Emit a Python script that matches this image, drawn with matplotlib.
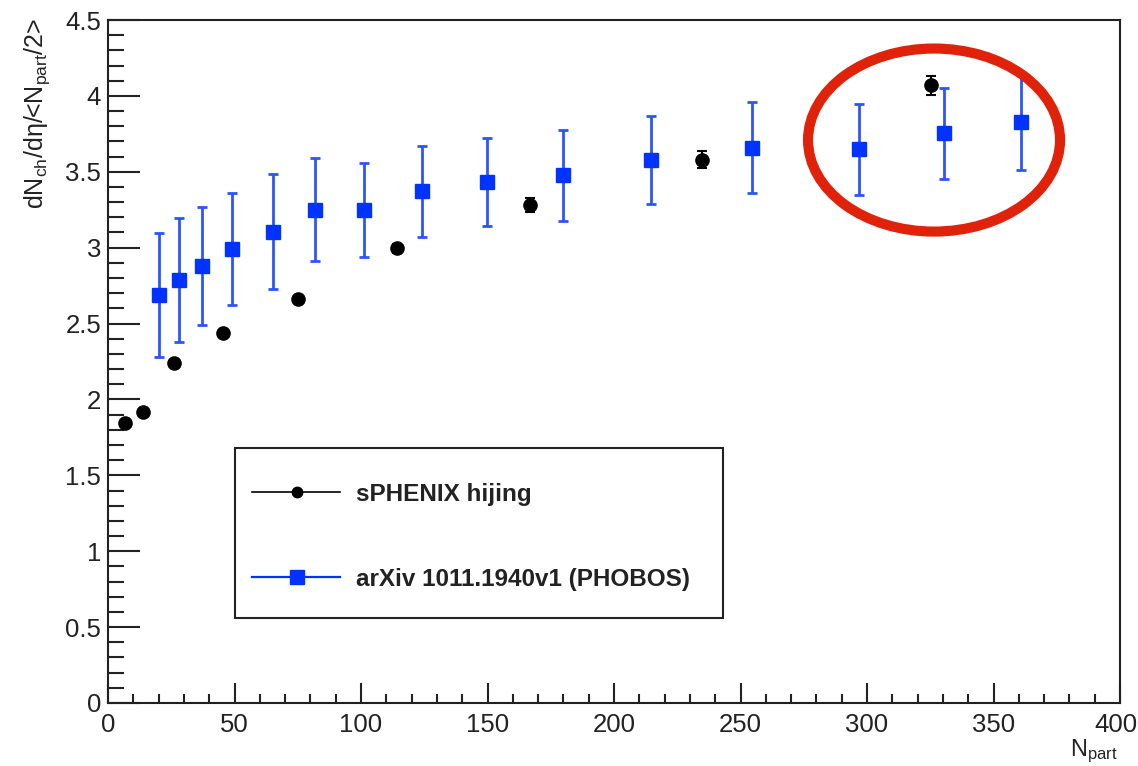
"""
dNch/deta per participant pair vs Npart: sPHENIX hijing vs PHOBOS.
"""

import numpy as np
import matplotlib

matplotlib.use("Agg")
import matplotlib.pyplot as plt
from matplotlib.patches import Ellipse, Rectangle
from matplotlib.lines import Line2D
from matplotlib.ticker import MultipleLocator, FormatStrFormatter, FuncFormatter

plt.rcParams["font.family"] = ["Liberation Sans", "DejaVu Sans"]
plt.rcParams["mathtext.fontset"] = "custom"
plt.rcParams["mathtext.rm"] = "Liberation Sans"
plt.rcParams["mathtext.it"] = "Liberation Sans:italic"

# ── data ─────────────────────────────────────────────────────────────────────

hijing_npart = [6.7, 14.0, 26.0, 45.6, 75.0, 114.1, 166.7, 234.8, 325.2]
hijing_val = [1.847, 1.919, 2.242, 2.435, 2.661, 2.995, 3.281, 3.579, 4.07]
hijing_err = [0.02, 0.02, 0.02, 0.02, 0.02, 0.03, 0.045, 0.057, 0.064]

phobos_npart = [20.3, 28.1, 37.2, 48.9, 65.3, 81.7, 101.2, 124.0, 149.9,
                180.0, 214.5, 254.7, 296.8, 330.6, 360.7]
phobos_val = [2.688, 2.787, 2.881, 2.99, 3.105, 3.25, 3.25, 3.371, 3.43,
              3.478, 3.575, 3.658, 3.647, 3.755, 3.825]
phobos_err = [0.41, 0.41, 0.39, 0.37, 0.38, 0.34, 0.31, 0.30, 0.29,
              0.30, 0.29, 0.30, 0.30, 0.30, 0.31]

label_hijing = "sPHENIX hijing"
label_phobos = "arXiv 1011.1940v1 (PHOBOS)"

# highlighted region (centre, width, height in data units)
circle_center = (326.5, 3.709)
circle_w, circle_h = 99.6, 1.206

X_MAX = 400

BLUE = "#0033ff"
BLUE_ERR = "#2a55ff"
DARK = "#222222"

# ── plot ─────────────────────────────────────────────────────────────────────

fig = plt.figure(figsize=(11.38, 7.66), dpi=100)
ax = fig.add_axes([108 / 1138, 1 - 703 / 766, 1012 / 1138, 683 / 766])

ax.errorbar(phobos_npart, phobos_val, yerr=phobos_err, fmt="s",
            color=BLUE, ecolor=BLUE_ERR, elinewidth=2, capsize=3.5,
            capthick=2, markersize=10, zorder=3)
ax.errorbar(hijing_npart, hijing_val, yerr=hijing_err, fmt="o",
            color="black", ecolor="black", elinewidth=1.5, capsize=3.5,
            capthick=1.5, markersize=9.5, zorder=4)

ell = Ellipse(circle_center, circle_w, circle_h, fill=False,
              edgecolor="#e0220a", linewidth=7.3, zorder=6)
ax.add_patch(ell)

ax.set_xlim(0, X_MAX)
ax.set_ylim(0, 4.5)
ax.xaxis.set_major_locator(MultipleLocator(50))
ax.xaxis.set_minor_locator(MultipleLocator(10))
ax.yaxis.set_major_locator(MultipleLocator(0.5))
ax.yaxis.set_minor_locator(MultipleLocator(0.1))
ax.yaxis.set_major_formatter(FormatStrFormatter("%g"))
# last x label is drawn separately, nudged in from the canvas edge
ax.xaxis.set_major_formatter(
    FuncFormatter(lambda v, _: "" if v >= X_MAX else f"{v:g}"))

ax.tick_params(axis="both", which="both", direction="in", colors=DARK,
               labelsize=18.5, labelcolor=DARK, width=1.5)
ax.tick_params(axis="y", which="major", length=23, pad=5)
ax.tick_params(axis="y", which="minor", length=11.5)
ax.tick_params(axis="x", which="major", length=14.4, pad=7)
ax.tick_params(axis="x", which="minor", length=6.8)
for sp in ax.spines.values():
    sp.set_linewidth(1.5)
    sp.set_color(DARK)

ax.annotate(f"{X_MAX:g}", xy=(X_MAX, 0), xycoords="data",
            xytext=(-3, -7), textcoords="offset points", ha="center",
            va="top", fontsize=18.5, color=DARK, annotation_clip=False)

fig.text(37 / 1138, 1 - 18 / 766,
         r"dN$_{\mathrm{ch}}$/dη/<N$_{\mathrm{part}}$/2>",
         rotation=90, ha="center", va="top", fontsize=18, color=DARK)
fig.text(1118 / 1138, 1 - 738 / 766, r"N$_{\mathrm{part}}$",
         ha="right", va="top", fontsize=17, color=DARK)

# ── legend (ROOT-style box, drawn in axes fraction) ─────────────────────────

box = Rectangle((0.1255, 0.1245), 0.4822, 0.2489, transform=ax.transAxes,
                facecolor="white", edgecolor=DARK, linewidth=1.5, zorder=7)
ax.add_patch(box)

entries = [
    (label_hijing, "black", "o", 7.5, 1.2, 0.3094),
    (label_phobos, BLUE, "s", 9.5, 1.6, 0.1849),
]
for text, col, mk, ms, lw, yy in entries:
    ax.add_line(Line2D([0.1423, 0.2292], [yy, yy], transform=ax.transAxes,
                       color=col, linewidth=lw, zorder=8))
    ax.add_line(Line2D([0.1868], [yy], transform=ax.transAxes, color=col,
                       marker=mk, markersize=ms, linestyle="none", zorder=9))
    ax.text(0.2451, yy, text, transform=ax.transAxes, ha="left",
            va="center_baseline", fontsize=17.5, fontweight="bold",
            color=DARK, zorder=9)

fig.savefig("out.png", dpi=100)
plt.close(fig)
